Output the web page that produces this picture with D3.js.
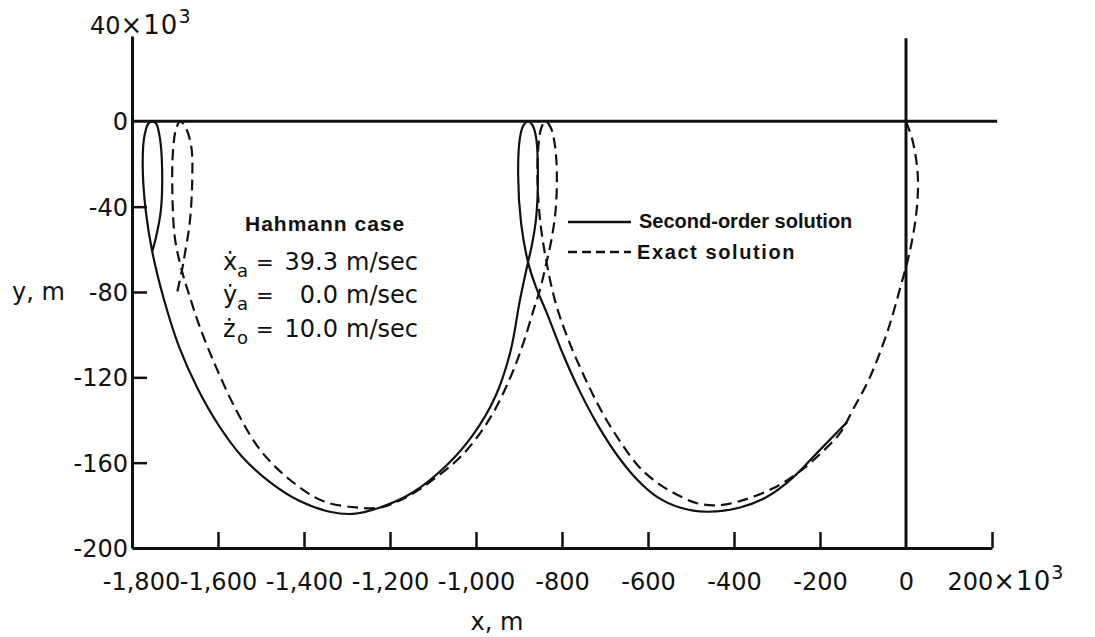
<!DOCTYPE html>
<html><head><meta charset="utf-8">
<script src="https://cdn.jsdelivr.net/npm/d3@7"></script>
<style>body{margin:0;background:#fff}svg{display:block;background:#fff}</style>
</head><body>
<svg id="c" width="1095" height="637"></svg>
<script>
// ---- data (units: 10^3 m) ----
const xTickValues = [-1800, -1600, -1400, -1200, -1000, -800, -600, -400, -200, 0, 200];
const xTickLabels = ["-1,800", "-1,600", "-1,400", "-1,200", "-1,000", "-800", "-600", "-400", "-200", "0", "200"];
const yTickValues = [40, 0, -40, -80, -120, -160, -200];
const yTickLabels = ["40", "0", "-40", "-80", "-120", "-160", "-200"];
const scaleSuffix = ["×10", "3"];

const secondOrder = [
  [-137,-141],[-200,-154],[-263,-167],[-323,-176],[-386,-181],[-463,-183],[-526,-181],[-579,-176],[-625,-168],
  [-670,-157],[-715,-143],[-760,-126],[-800,-108],[-835,-90],[-860,-78],[-879,-66],
  [-895,-48],[-902,-25],[-898,-8],[-890,-2],[-879,0],[-868,-2],[-860,-8],[-856,-25],[-860,-45],[-870,-58],[-879,-66],
  [-898,-84],[-920,-108],[-955,-129],[-1007,-147],[-1067,-161],[-1147,-174],[-1223,-181],[-1286,-184],[-1340,-183],
  [-1410,-178],[-1480,-169],[-1545,-157],[-1600,-142],[-1648,-125],[-1690,-106],[-1725,-84],[-1753,-61],
  [-1768,-42],[-1775,-22],[-1772,-8],[-1762,-1],[-1753,0],[-1744,-1],[-1735,-8],[-1730,-22],[-1733,-42],[-1745,-55],[-1753,-61]
];

const exactSolution = [
  [0,0],[14,-8],[25,-20],[28,-30],[24,-43],[14,-56],[3,-66],[-12,-77],[-30,-90],[-49,-102],[-84,-120],
  [-123,-135],[-153,-146],[-200,-156],[-253,-165],[-309,-172],[-386,-178],[-440,-180],[-486,-179],[-542,-174],
  [-588,-168],[-625,-161],[-665,-150],[-705,-137],[-745,-121],[-786,-102],[-815,-85],[-836,-66],
  [-850,-48],[-857,-28],[-855,-12],[-848,-3],[-838,0],[-826,-3],[-816,-12],[-812,-25],[-815,-42],[-825,-56],[-836,-66],
  [-850,-78],[-867,-89],[-890,-104],[-920,-120],[-967,-139],[-1030,-156],[-1100,-168],[-1160,-176],[-1223,-181],
  [-1277,-181],[-1356,-178],[-1433,-168],[-1502,-154],[-1556,-136],[-1605,-115],[-1643,-96],[-1666,-82],[-1684,-70],
  [-1700,-55],[-1706,-35],[-1705,-15],[-1698,-4],[-1688,0],[-1675,-3],[-1662,-12],[-1660,-28],[-1666,-48],[-1677,-62],[-1684,-70],[-1697,-82]
];

const paramSymbols = ["ẋ", "ẏ", "ż"];
const paramSubs = ["a", "a", "o"];
const paramValues = ["39.3", "0.0", "10.0"];
const paramUnit = "m/sec";

// ---- scales ----
const svg = d3.select("#c");
const x = d3.scaleLinear().domain([-1800, 200]).range([132, 992]);
const y = d3.scaleLinear().domain([-200, 40]).range([548, 36]);
const tickFont = "'DejaVu Sans', sans-serif";
const ink = "#111";

// reference lines: y = 0 and x = 0
svg.append("line").attr("x1", x(-1800)).attr("x2", x(212)).attr("y1", y(0)).attr("y2", y(0))
  .attr("stroke", ink).attr("stroke-width", 3);
svg.append("line").attr("x1", x(0)).attr("x2", x(0)).attr("y1", y(39)).attr("y2", y(-200))
  .attr("stroke", ink).attr("stroke-width", 3);

function addSuffix(sel) {
  sel.append("tspan").attr("font-size", 26).attr("letter-spacing", 1).text(scaleSuffix[0]);
  sel.append("tspan").attr("font-size", 19).attr("dy", "-0.6em").text(scaleSuffix[1]);
}

// x axis
const xAxis = d3.axisBottom(x).tickValues(xTickValues)
  .tickFormat((d, i) => xTickLabels[i]).tickSizeInner(-16).tickSizeOuter(0).tickPadding(25);
const gx = svg.append("g").attr("transform", `translate(0,${y(-200)})`).call(xAxis);
gx.select(".domain").attr("stroke", ink).attr("stroke-width", 3);
gx.selectAll(".tick line").attr("stroke", ink).attr("stroke-width", 2.5)
  .attr("display", d => (d === -1800 || d === 0) ? "none" : null);
gx.selectAll(".tick text").attr("font-family", tickFont).attr("font-size", 24).attr("fill", ink)
  .attr("dx", d => d === -1800 ? 9 : 0)
  .attr("text-anchor", d => d === 200 ? "start" : "middle")
  .attr("x", d => d === 200 ? -45 : 0);
gx.selectAll(".tick text").filter(d => d === 200).call(addSuffix);

// y axis
const yAxis = d3.axisLeft(y).tickValues(yTickValues)
  .tickFormat((d, i) => yTickLabels[i]).tickSizeInner(-15).tickSizeOuter(0).tickPadding(4);
const gy = svg.append("g").attr("transform", `translate(${x(-1800)},0)`).call(yAxis);
gy.select(".domain").attr("stroke", ink).attr("stroke-width", 3);
gy.selectAll(".tick line").attr("stroke", ink).attr("stroke-width", 2.5)
  .attr("display", d => (d === 40 || d === 0 || d === -200) ? "none" : null);
gy.selectAll(".tick text").attr("font-family", tickFont).attr("font-size", 24).attr("fill", ink)
  .attr("text-anchor", d => d === 40 ? "start" : "end")
  .attr("x", d => d === 40 ? -42 : -4)
  .attr("dy", d => d === 40 ? "-0.1em" : "0.36em");
gy.selectAll(".tick text").filter(d => d === 40).call(addSuffix);

// axis titles
svg.append("text").attr("x", 497).attr("y", 630).attr("text-anchor", "middle")
  .attr("font-family", tickFont).attr("font-size", 24).attr("fill", ink).text("x, m");
svg.append("text").attr("x", 12).attr("y", y(-80) + 8).attr("text-anchor", "start")
  .attr("font-family", tickFont).attr("font-size", 24).attr("fill", ink).text("y, m");

// curves
const line = d3.line().x(d => x(d[0])).y(d => y(d[1])).curve(d3.curveCatmullRom.alpha(0.5));
svg.append("path").datum(exactSolution).attr("d", line).attr("fill", "none")
  .attr("stroke", ink).attr("stroke-width", 2.2).attr("stroke-dasharray", "11,6");
svg.append("path").datum(secondOrder).attr("d", line).attr("fill", "none")
  .attr("stroke", ink).attr("stroke-width", 2.2);

// legend
const legFont = "'Liberation Sans', Arial, sans-serif";
svg.append("line").attr("x1", 568).attr("x2", 631).attr("y1", 222).attr("y2", 222)
  .attr("stroke", ink).attr("stroke-width", 2.5);
svg.append("line").attr("x1", 568).attr("x2", 631).attr("y1", 252).attr("y2", 252)
  .attr("stroke", ink).attr("stroke-width", 2.5).attr("stroke-dasharray", "9,5");
svg.append("text").attr("x", 639).attr("y", 228).attr("font-family", legFont).attr("font-weight", "bold")
  .attr("font-size", 20).attr("fill", ink).text("Second-order solution");
svg.append("text").attr("x", 637).attr("y", 259).attr("font-family", legFont).attr("font-weight", "bold")
  .attr("font-size", 20).attr("letter-spacing", 1.6).attr("fill", ink).text("Exact solution");

// annotation
svg.append("text").attr("x", 245).attr("y", 231).attr("font-family", legFont).attr("font-weight", "bold")
  .attr("font-size", 21).attr("letter-spacing", 1).attr("fill", ink).text("Hahmann case");
const baselines = [270, 303, 337];
paramSymbols.forEach((s, i) => {
  const g = svg.append("g").attr("font-family", tickFont).attr("fill", ink);
  g.append("text").attr("x", 223).attr("y", baselines[i]).attr("font-size", 24).text(s);
  g.append("text").attr("x", 237).attr("y", baselines[i] + 7).attr("font-size", 18).text(paramSubs[i]);
  g.append("text").attr("x", 256).attr("y", baselines[i]).attr("font-size", 21).text("=");
  g.append("text").attr("x", 338).attr("y", baselines[i]).attr("font-size", 24).attr("text-anchor", "end").text(paramValues[i]);
  g.append("text").attr("x", 346).attr("y", baselines[i]).attr("font-size", 24).text(paramUnit);
});
</script>
</body></html>
